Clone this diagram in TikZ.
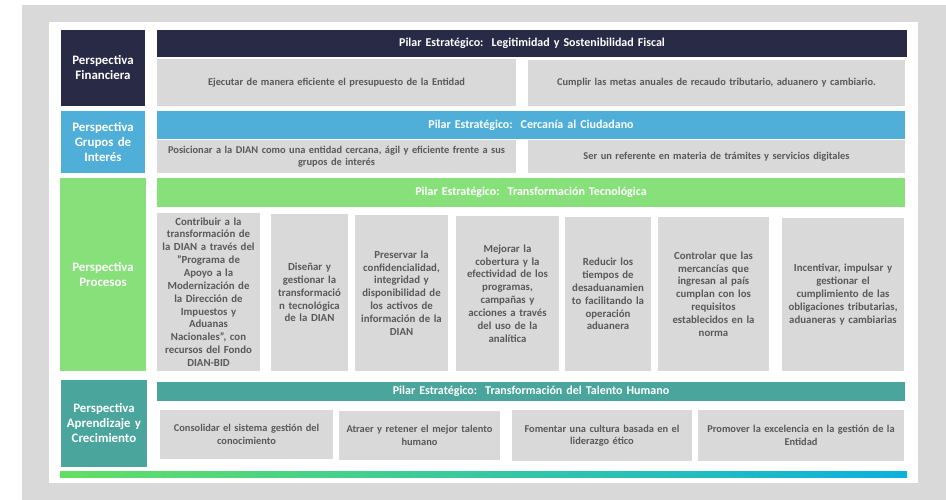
\documentclass[tikz,border=0pt]{standalone}
\usepackage{fontspec}
\setmainfont{Carlito}
\definecolor{bggray}{HTML}{D9D9D9}
\definecolor{boxgray}{HTML}{D9D9D9}
\definecolor{txtgray}{HTML}{595959}
\definecolor{navy}{HTML}{282A46}
\definecolor{sky}{HTML}{4FAFD9}
\definecolor{lgreen}{HTML}{88E07B}
\definecolor{teal}{HTML}{4AA69C}
\definecolor{gradL}{HTML}{62DF63}
\definecolor{gradM}{HTML}{2DCB9E}
\definecolor{gradR}{HTML}{0BB1DF}
\newcommand\rbox[7]{%
  \pgfmathsetmacro\bw{#4-#2}%
  \pgfmathsetmacro\bh{#5-#3}%
  \pgfmathsetmacro\tw{#4-#2-4}%
  \node[#1, minimum width=\bw pt, minimum height=\bh pt, text width=\tw pt] (#7) at ({(#2+#4)/2},{(#3+#5)/2}) {#6};}
\begin{document}
\begin{tikzpicture}[x=1pt,y=-1pt,
  base/.style={inner sep=0pt, outer sep=0pt, align=center, font=\bfseries},
  label/.style={base, text=white, font=\fontsize{12.9}{15}\selectfont\bfseries},
  pilar/.style={base, text=white, font=\fontsize{12}{14}\selectfont\bfseries},
  content/.style={base, fill=boxgray, text=txtgray, font=\fontsize{10.4}{12.4}\selectfont\bfseries},
  proc/.style={content, font=\fontsize{10.8}{12.85}\selectfont\bfseries}]
\useasboundingbox (0,0) rectangle (946,500);
\fill[bggray] (22,5) rectangle (946,500);
\fill[white] (49,22) rectangle (918,483);
% Financiera
\rbox{label, fill=navy}{61}{30}{145}{106}{Perspectiva\\Financiera}{lfin}
\rbox{pilar, fill=navy}{157}{30}{907}{57}{Pilar Estratégico:~~Legitimidad y Sostenibilidad Fiscal}{pfin}
\rbox{content}{157}{59}{516}{106}{Ejecutar de manera eficiente el presupuesto de la Entidad}{cfin1}
\rbox{content}{528}{60}{905}{106}{Cumplir las metas anuales de recaudo tributario, aduanero y cambiario.}{cfin2}
% Grupos
\rbox{label, fill=sky}{61}{111}{145}{173}{Perspectiva\\Grupos de\\Interés}{lgru}
\rbox{pilar, fill=sky}{157}{111}{905}{139}{Pilar Estratégico:~~Cercanía al Ciudadano}{pgru}
\rbox{content}{157}{140}{516}{173}{Posicionar a la DIAN como una entidad cercana, ágil y eficiente frente a sus\\grupos de interés}{cgru1}
\rbox{content}{528}{140}{905}{173}{Ser un referente en materia de trámites y servicios digitales}{cgru2}
% Procesos
\rbox{label, fill=lgreen}{60}{178}{146}{371}{Perspectiva\\Procesos}{lpro}
\rbox{pilar, fill=lgreen}{157}{178}{905}{207}{Pilar Estratégico:~~Transformación Tecnológica}{ppro}
\rbox{proc}{157}{213}{260}{371}{Contribuir a la\\transformación de\\la DIAN a través del\\"Programa de\\Apoyo a la\\Modernización de\\la Dirección de\\Impuestos y\\Aduanas\\Nacionales", con\\recursos del Fondo\\DIAN-BID}{cpro1}
\rbox{proc}{271}{214}{348}{371}{Diseñar y\\gestionar la\\transformació\\n tecnológica\\de la DIAN}{cpro2}
\rbox{proc}{355}{215}{448}{371}{Preservar la\\confidencialidad,\\integridad y\\disponibilidad de\\los activos de\\información de la\\DIAN}{cpro3}
\rbox{proc}{456}{216}{559}{371}{Mejorar la\\cobertura y la\\efectividad de los\\programas,\\campañas y\\acciones a través\\del uso de la\\analítica}{cpro4}
\rbox{proc}{565}{217}{651}{371}{Reducir los\\tiempos de\\desaduanamien\\to facilitando la\\operación\\aduanera}{cpro5}
\rbox{proc}{658}{217}{769}{371}{Controlar que las\\mercancías que\\ingresan al país\\cumplan con los\\requisitos\\establecidos en la\\norma}{cpro6}
\rbox{proc}{782}{218}{904}{371}{Incentivar, impulsar y\\gestionar el\\cumplimiento de las\\obligaciones tributarias,\\aduaneras y cambiarias}{cpro7}
% Aprendizaje
\rbox{label, fill=teal}{61}{380}{147}{467}{Perspectiva\\Aprendizaje y\\Crecimiento}{lapr}
\rbox{pilar, fill=teal}{157}{382}{905}{401}{Pilar Estratégico:~~Transformación del Talento Humano}{papr}
\rbox{content}{160}{410}{333}{459}{Consolidar el sistema gestión del\\conocimiento}{capr1}
\rbox{content}{339}{411}{500}{460}{Atraer y retener el mejor talento\\humano}{capr2}
\rbox{content}{512}{410}{692}{461}{Fomentar una cultura basada en el\\liderazgo ético}{capr3}
\rbox{content}{698}{410}{904}{461}{Promover la excelencia en la gestión de la\\Entidad}{capr4}
% gradient bar
\rbox{base, left color=gradL, middle color=gradM, right color=gradR}{60}{471}{907}{477}{}{bar}
\end{tikzpicture}
\end{document}
